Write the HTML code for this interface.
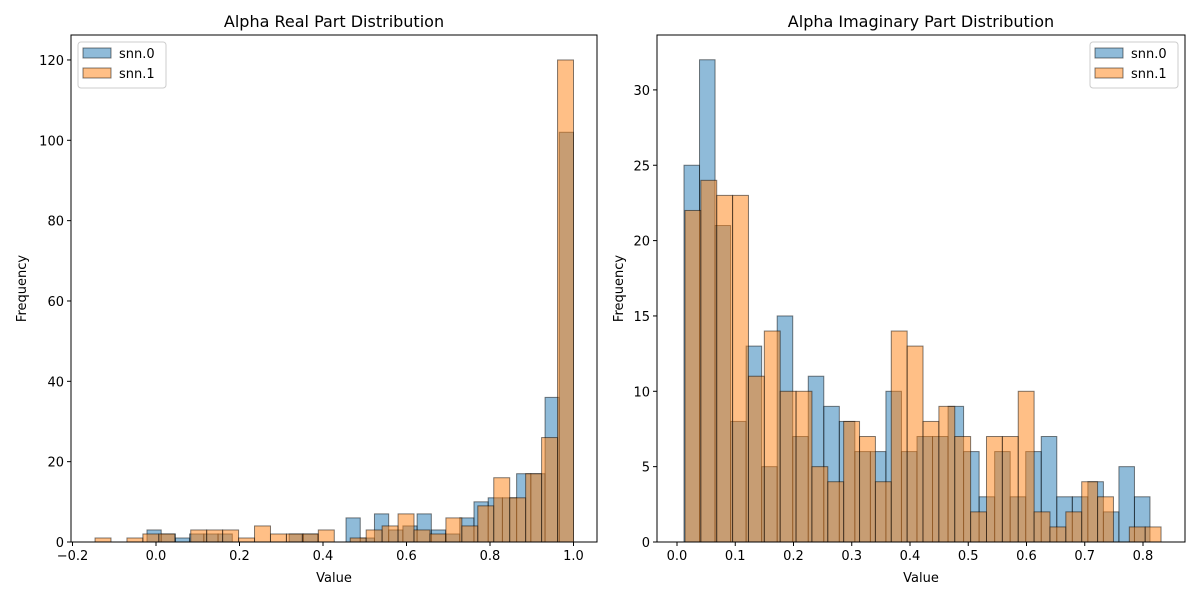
<!DOCTYPE html>
<html><head><meta charset="utf-8"><style>
body{margin:0;background:#fff;font-family:"DejaVu Sans","Liberation Sans",sans-serif;}
svg{display:block}
</style></head><body>
<svg id="chart" width="1200" height="600" xmlns="http://www.w3.org/2000/svg" font-family="DejaVu Sans, Liberation Sans, sans-serif"></svg>
<script>
// Left panel data (Alpha Real Part)
const realBlueStart = -0.0216, realBlueEnd = 1.0;
const realBlueCounts = [3,2,1,2,2,2,0,0,0,0,2,2,0,0,6,1,7,3,4,7,3,2,6,10,11,11,17,17,36,102];
const realOrangeStart = -0.146, realOrangeEnd = 1.0;
const realOrangeCounts = [1,0,1,2,2,0,3,3,3,1,4,2,2,2,3,0,1,3,4,7,3,2,6,4,9,16,11,17,26,120];
const realXTicks = [-0.2,0.0,0.2,0.4,0.6,0.8,1.0];
const realXTickLabels = ["\u22120.2","0.0","0.2","0.4","0.6","0.8","1.0"];
const realYTicks = [0,20,40,60,80,100,120];
// Right panel data (Alpha Imaginary Part)
const imagBlueStart = 0.012, imagBlueEnd = 0.812;
const imagBlueCounts = [25,32,21,8,13,5,15,7,11,9,8,6,6,10,6,7,7,9,6,3,6,3,6,7,3,3,4,2,5,3];
const imagOrangeStart = 0.0137, imagOrangeEnd = 0.831;
const imagOrangeCounts = [22,24,23,23,11,14,10,10,5,4,8,7,4,14,13,8,9,7,2,7,7,10,2,1,2,4,3,0,1,1];
const imagXTicks = [0.0,0.1,0.2,0.3,0.4,0.5,0.6,0.7,0.8];
const imagXTickLabels = ["0.0","0.1","0.2","0.3","0.4","0.5","0.6","0.7","0.8"];
const imagYTicks = [0,5,10,15,20,25,30];
const seriesNames = ["snn.0","snn.1"];

const NS="http://www.w3.org/2000/svg";
const svg=document.getElementById('chart');
function mk(tag,attrs,parent){const e=document.createElementNS(NS,tag);for(const k in attrs)e.setAttribute(k,attrs[k]);(parent||svg).appendChild(e);return e;}

function panel(cfg){
  const g=mk('g',{});
  
  
  const L=cfg.left,R=cfg.right,T=35,B=542;
  const xs=v=>cfg.x0px+(v-cfg.x0)*cfg.xscale;
  const ys=v=>B-v*cfg.yscale;
  function drawHist(counts,start,end,color,nm){
    const w=(end-start)/counts.length;
    counts.forEach((c,i)=>{
      if(c<=0)return;
      const x1=xs(start+i*w),x2=xs(start+(i+1)*w);
      const r=mk('rect',{x:x1,y:ys(c),width:x2-x1,height:ys(0)-ys(c),fill:color,'fill-opacity':0.5,stroke:'#000','stroke-opacity':0.5,'stroke-width':1},g);
      
      
    });
  }
  drawHist(cfg.blue,cfg.bs,cfg.be,'#1f77b4','snn0');
  drawHist(cfg.orange,cfg.os,cfg.oe,'#ff7f0e','snn1');
  const frame=mk('rect',{x:L,y:T,width:R-L,height:B-T,fill:'none',stroke:'#000','stroke-width':1},g);
  
  
  cfg.xt.forEach((v,i)=>{
    const x=xs(v);
    mk('line',{x1:x,x2:x,y1:B,y2:B+4,stroke:'#000'},g);
    const t=mk('text',{x:x,y:B+18,'font-size':13,'text-anchor':'middle',fill:'#000'},g);
    t.textContent=cfg.xl[i];
    
    
  });
  cfg.yt.forEach(v=>{
    const y=ys(v);
    mk('line',{x1:L-4,x2:L,y1:y,y2:y,stroke:'#000'},g);
    const t=mk('text',{x:L-7,y:y+5,'font-size':13,'text-anchor':'end',fill:'#000'},g);
    t.textContent=String(v);
    
    
  });
  const title=mk('text',{x:(L+R)/2,y:27,'font-size':16,'text-anchor':'middle',fill:'#000'},g);
  title.textContent=cfg.title;
  
  
  const xl=mk('text',{x:(L+R)/2,y:582,'font-size':13,'text-anchor':'middle',fill:'#000'},g);
  xl.textContent='Value';
  
  
  const yl=mk('text',{x:0,y:0,'font-size':13,'text-anchor':'middle',fill:'#000',transform:`translate(${cfg.ylx},${(T+B)/2}) rotate(-90)`},g);
  yl.textContent='Frequency';
  
  
  // legend
  const lg=mk('g',{},g);
  
  
  mk('rect',{x:cfg.legX,y:42,width:88,height:46,rx:3,fill:'#fff','fill-opacity':0.8,stroke:'#ccc'},lg);
  ['#1f77b4','#ff7f0e'].forEach((c,i)=>{
    mk('rect',{x:cfg.legX+5,y:48+i*20,width:28,height:10,fill:c,'fill-opacity':0.5,stroke:'#000','stroke-opacity':0.5},lg);
    const t=mk('text',{x:cfg.legX+41,y:58+i*20,'font-size':13,fill:'#000'},lg);
    t.textContent=seriesNames[i];
    
    
  });
}
panel({name:'real-part-panel',left:71,right:597,x0:0,x0px:156,xscale:417.5,yscale:4.017,
  blue:realBlueCounts,bs:realBlueStart,be:realBlueEnd,orange:realOrangeCounts,os:realOrangeStart,oe:realOrangeEnd,
  xt:realXTicks,xl:realXTickLabels,yt:realYTicks,title:'Alpha Real Part Distribution',ylx:26,legX:78});
panel({name:'imaginary-part-panel',left:657,right:1185,x0:0,x0px:677,xscale:582.5,yscale:15.07,
  blue:imagBlueCounts,bs:imagBlueStart,be:imagBlueEnd,orange:imagOrangeCounts,os:imagOrangeStart,oe:imagOrangeEnd,
  xt:imagXTicks,xl:imagXTickLabels,yt:imagYTicks,title:'Alpha Imaginary Part Distribution',ylx:623,legX:1090});
</script>
</body></html>
